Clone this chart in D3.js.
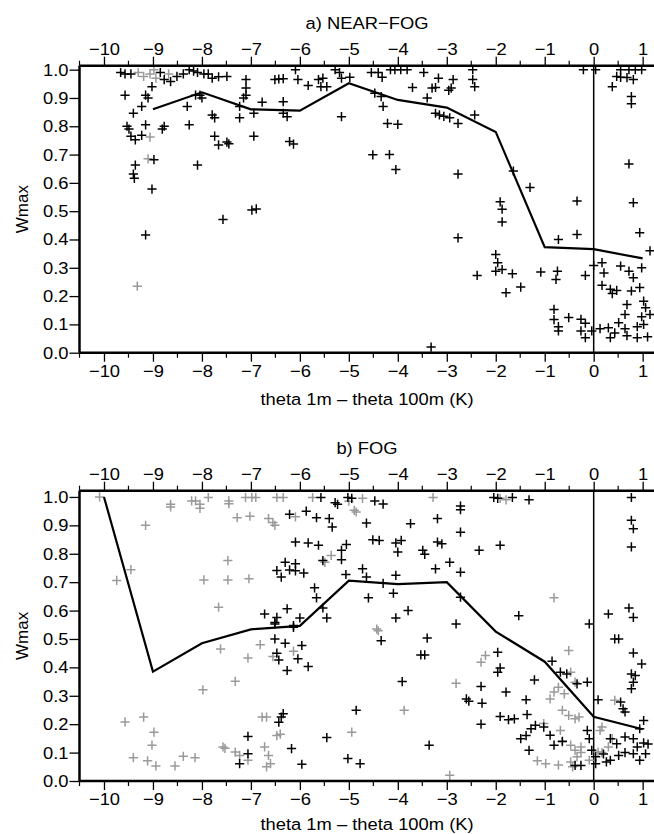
<!DOCTYPE html>
<html>
<head>
<meta charset="utf-8">
<script src="https://cdn.jsdelivr.net/npm/d3@7"></script>
<style>
  body { margin: 0; background: #fff; }
  svg { display: block; font-family: "Liberation Sans", Arial, sans-serif; }
</style>
</head>
<body>
<svg id="chart"></svg>
<script>
// tick values
const xTicks = [-10, -9, -8, -7, -6, -5, -4, -3, -2, -1, 0, 1];
const xMinor = [-10.5, -9.5, -8.5, -7.5, -6.5, -5.5, -4.5, -3.5, -2.5, -1.5, -0.5, 0.5];
const yTicks = [0, 0.1, 0.2, 0.3, 0.4, 0.5, 0.6, 0.7, 0.8, 0.9, 1.0];

// a) NEAR-FOG : mean line
const nearMeanX = [-9, -8, -7, -6, -5, -4, -3, -2, -1, 0, 1];
const nearMeanY = [0.86, 0.92, 0.86, 0.855, 0.952, 0.893, 0.866, 0.78, 0.373, 0.366, 0.333];

// a) NEAR-FOG : black crosses [theta diff, Wmax]
const nearBlack = [
  [-9.66,0.99],[-9.57,0.985],[-9.45,0.985],[-8.85,0.99],[-8.77,0.965],[-8.64,0.958],[-8.51,0.976],[-8.38,0.985],
  [-8.26,1.0],[-8.17,0.995],[-8.09,0.99],[-7.96,0.985],[-7.87,0.985],[-7.79,0.97],[-7.66,0.975],[-7.49,0.976],
  [-9.02,0.94],[-9.57,0.91],[-9.15,0.91],[-9.1,0.9],[-9.4,0.846],[-9.23,0.87],[-9.53,0.8],[-9.49,0.79],
  [-9.15,0.805],[-8.77,0.8],[-8.3,0.87],[-8.26,0.805],[-8.13,0.91],[-8.04,0.91],[-8.0,0.9],[-7.79,0.84],[-7.74,0.83],
  [-7.1,0.965],[-7.1,0.935],[-7.1,0.91],[-7.15,0.9],[-7.23,0.87],[-7.23,0.83],[-6.94,0.846],[-6.77,0.885],
  [-6.51,0.965],[-6.43,0.967],[-6.34,0.968],[-6.09,1.0],[-6.04,0.965],[-5.83,0.944],[-5.62,0.965],[-5.53,0.97],
  [-5.57,0.94],[-5.45,0.94],[-6.34,0.887],[-6.34,0.846],[-6.26,0.834],[-5.28,1.0],[-5.19,0.99],[-4.98,0.973],
  [-5.15,0.97],[-5.15,0.834],[-4.54,0.99],[-4.4,0.99],[-4.32,0.973],[-4.15,1.0],[-4.06,1.0],[-3.94,1.0],[-3.81,1.0],
  [-3.47,0.99],[-3.17,0.97],[-2.87,0.965],[-2.91,0.935],[-2.96,0.927],[-3.23,0.937],[-3.3,0.935],[-3.7,0.937],
  [-4.47,0.917],[-4.34,0.905],[-4.3,0.87],[-4.21,0.81],[-4.0,0.807],[-3.4,0.9],[-3.23,0.846],[-3.15,0.84],
  [-3.06,0.835],[-2.94,0.83],[-2.77,0.81],[-2.43,0.84],[-2.47,1.0],[-2.47,0.965],[-2.43,0.94],
  [-0.21,1.0],[0.04,1.0],[0.55,1.0],[0.72,1.0],[0.85,1.0],[0.98,1.0],[0.47,0.976],[0.55,0.973],[0.68,0.972],
  [0.81,0.965],[0.38,0.94],[0.77,0.905],[0.77,0.88],
  [-9.45,0.765],[-9.36,0.752],[-9.23,0.768],[-8.98,0.682],[-9.36,0.663],[-9.4,0.631],[-9.38,0.616],[-9.02,0.578],
  [-9.15,0.416],[-8.09,0.663],[-8.81,0.79],[-7.74,0.765],[-7.66,0.734],[-7.49,0.744],[-7.45,0.738],[-6.94,0.765],
  [-6.21,0.746],[-6.13,0.737],[-7.57,0.471],[-6.98,0.504],[-6.89,0.508],[-4.51,0.699],[-4.17,0.7],[-4.04,0.647],
  [-2.77,0.631],[-2.77,0.406],[-1.91,0.533],[-1.87,0.507],[-1.87,0.462],[-1.64,0.642],[-1.3,0.584],[-0.72,0.4],
  [-0.34,0.418],[-0.34,0.536],[0.72,0.667],[0.81,0.53],[0.94,0.424],
  [-3.32,0.02],[-2.0,0.347],[-1.96,0.318],[-2.0,0.288],[-1.87,0.294],[-1.66,0.279],[-1.79,0.212],[-1.49,0.232],
  [-2.38,0.273],[-1.08,0.285],[-0.74,0.288],[-0.77,0.259],[-0.17,0.273],[0.0,0.308],[0.17,0.318],[0.21,0.282],
  [0.55,0.306],[0.72,0.288],[0.81,0.265],[0.98,0.3],[1.15,0.36],[0.17,0.238],[0.34,0.224],[0.47,0.22],[0.38,0.209],
  [0.77,0.218],[0.94,0.23],[0.68,0.17],[1.02,0.182],[1.06,0.159],[1.15,0.135],[0.98,0.127],[0.64,0.135],[0.51,0.106],
  [-0.81,0.153],[-0.81,0.117],[-0.72,0.092],[-0.72,0.077],[-0.51,0.124],[-0.26,0.118],[-0.17,0.104],[-0.26,0.077],
  [-0.17,0.053],[-0.04,0.077],[0.13,0.085],[0.3,0.088],[0.34,0.053],[0.43,0.07],[0.64,0.085],[0.68,0.06],
  [0.89,0.092],[0.89,0.053],[1.1,0.056],[1.02,0.1]
];

// a) NEAR-FOG : grey crosses
const nearGrey = [
  [-9.3,0.99],[-9.19,0.976],[-9.06,0.985],[-8.98,1.0],[-8.94,0.97],[-8.68,0.985],[-9.06,0.762],[-9.1,0.685],[-9.32,0.235]
];

// b) FOG : mean line
const fogMeanX = [-10, -9, -8, -7, -6, -5, -4, -3, -2, -1, 0, 1];
const fogMeanY = [1.0, 0.385, 0.485, 0.534, 0.546, 0.705, 0.693, 0.7, 0.526, 0.42, 0.226, 0.182];

// b) FOG : black crosses
const fogBlack = [
  [-5.57,0.998],[-5.28,0.98],[-5.02,0.998],[-4.94,0.995],[-5.23,0.974],[-4.47,0.986],[-4.3,0.975],[-2.72,0.968],
  [-2.04,0.998],[-1.96,0.995],[-1.66,0.998],[-1.32,0.99],[0.77,0.998],
  [-6.21,0.939],[-5.87,0.95],[-5.66,0.927],[-5.4,0.924],[-5.34,0.894],[-4.64,0.908],[-3.74,0.906],[-3.19,0.924],
  [-2.72,0.955],[-2.72,0.876],[-6.09,0.841],[-5.83,0.838],[-5.62,0.83],[-5.15,0.812],[-5.05,0.833],[-4.51,0.849],
  [-4.38,0.847],[-4.04,0.838],[-3.93,0.847],[-4.0,0.806],[-3.49,0.812],[-3.45,0.798],[-3.19,0.841],[-3.1,0.835],
  [-2.34,0.812],[-1.91,0.83],[-5.15,0.779],[-5.53,0.776],[-6.3,0.77],[-6.09,0.765],[-6.47,0.741],[-6.21,0.743],
  [-6.09,0.74],[-5.92,0.732],[-6.38,0.718],[-5.06,0.727],[-4.72,0.747],[-4.64,0.718],[-4.04,0.724],[-3.23,0.747],
  [-2.94,0.77],[-2.72,0.735],[-5.7,0.68],[-5.66,0.645],[-5.53,0.609],[-5.45,0.574],[-4.6,0.645],[-4.3,0.696],
  [-4.09,0.661],[-4.04,0.574],[-3.79,0.6],[-2.72,0.647],[-2.81,0.553],[-1.53,0.582],[-0.09,0.553],[0.3,0.588],
  [0.72,0.609],[0.81,0.576],[0.77,0.918],[0.81,0.888],[0.77,0.824],[-6.72,0.588],[-6.47,0.576],[-6.26,0.606],
  [-6.0,0.574],[-6.51,0.553],[-6.13,0.547],
  [-6.51,0.558],[-6.51,0.5],[-6.3,0.485],[-6.47,0.45],[-6.43,0.426],[-6.26,0.389],[-6.04,0.43],[-5.96,0.477],
  [-5.83,0.403],[-6.13,0.541],[-4.34,0.494],[-3.4,0.503],[-3.53,0.444],[-3.45,0.444],[-3.91,0.35],[-3.36,0.126],
  [-2.6,0.289],[-2.55,0.281],[-2.3,0.333],[-2.28,0.274],[-1.96,0.453],[-1.91,0.398],[-1.96,0.383],[-1.79,0.313],
  [-2.3,0.2],[-1.91,0.227],[-1.74,0.216],[-1.62,0.219],[-1.38,0.286],[-1.21,0.356],[-1.36,0.234],[-1.28,0.184],
  [-1.19,0.196],[-1.32,0.108],[-1.49,0.149],[-1.38,0.16],[-1.02,0.19],[-0.89,0.161],[-0.81,0.126],[-0.85,0.422],
  [-0.68,0.383],[-0.55,0.377],[-0.34,0.342],[-0.13,0.348],[0.09,0.286],[-0.13,0.178],[-0.09,0.149],[-0.64,0.14],
  [-0.04,0.108],[0.04,0.085],[0.2,0.095],[0.34,0.073],[0.34,0.149],[0.55,0.278],[0.6,0.254],[0.64,0.243],
  [0.77,0.325],[0.81,0.348],[0.85,0.371],[0.98,0.412],[1.02,0.213],[0.94,0.184],[0.43,0.5],[0.51,0.5],[0.81,0.451],
  [0.77,0.377],[0.47,0.131],[0.64,0.155],[0.81,0.149],[0.89,0.12],[1.02,0.134],[1.06,0.096],[0.81,0.096],
  [0.64,0.1],[0.51,0.09],[0.26,0.067],[0.04,0.061],[-0.26,0.055],[-0.38,0.055],[0.94,0.073],[1.11,0.13],
  [-4.77,0.061],[-5.02,0.079],[-4.85,0.249],[-5.45,0.153],[-7.06,0.157],[-7.06,0.096],[-7.23,0.061],
  [-6.34,0.237],[-6.43,0.207],[-6.17,0.114],[-5.96,0.059],[-6.38,0.225]
];

// b) FOG : grey crosses
const fogGrey = [
  [-10.09,1.0],[-8.64,0.974],[-8.21,0.986],[-8.04,0.974],[-7.87,0.998],[-8.13,0.986],[-7.45,0.986],[-7.11,0.998],
  [-6.98,0.998],[-6.9,0.998],[-6.47,0.998],[-6.34,0.998],[-5.74,0.998],[-4.72,0.995],[-3.28,0.998],[-1.91,0.995],[-1.79,0.99],
  [-9.15,0.9],[-8.64,0.965],[-8.04,0.96],[-7.45,0.976],[-7.28,0.927],[-7.02,0.932],[-6.64,0.924],[-6.51,0.9],
  [-6.55,0.91],[-6.09,0.93],[-9.74,0.706],[-9.45,0.744],[-7.96,0.708],[-7.47,0.708],[-7.04,0.712],[-7.47,0.776],
  [-7.66,0.612],[-5.49,0.77],[-5.36,0.794],[-4.89,0.953],[-4.85,0.947],[-5.0,0.985],[-0.81,0.645],[-4.43,0.535],
  [-9.57,0.208],[-9.19,0.225],[-8.98,0.172],[-9.02,0.126],[-9.4,0.082],[-9.11,0.071],[-8.94,0.053],[-8.55,0.053],
  [-8.38,0.087],[-8.14,0.082],[-7.98,0.321],[-7.62,0.465],[-7.32,0.351],[-7.06,0.433],[-6.81,0.48],[-6.55,0.438],
  [-6.13,0.457],[-6.77,0.225],[-6.68,0.225],[-6.47,0.16],[-6.4,0.165],[-7.57,0.12],[-7.53,0.115],[-7.32,0.102],
  [-7.23,0.09],[-7.06,0.073],[-6.72,0.12],[-6.64,0.09],[-6.68,0.05],[-6.6,0.061],[-4.94,0.172],[-4.4,0.529],
  [-3.87,0.249],[-2.94,0.02],[-2.81,0.344],[-2.3,0.418],[-2.21,0.442],[-1.02,0.202],[-1.15,0.071],[-0.89,0.289],
  [-0.81,0.313],[-0.72,0.33],[-0.6,0.307],[-0.51,0.459],[-0.47,0.383],[-0.38,0.348],[-0.64,0.249],[-0.51,0.231],
  [-0.38,0.219],[-0.3,0.225],[-0.68,0.178],[-0.64,0.137],[-0.47,0.126],[-0.38,0.108],[-0.34,0.085],[-0.47,0.067],
  [-0.43,0.05],[-0.26,0.12],[-0.26,0.1],[-0.98,0.061],[-0.72,0.056],[0.13,0.178],[0.17,0.19],[0.17,0.1],
  [0.43,0.284],[0.38,0.149],[0.3,0.12],[0.09,0.102],[-0.09,0.073]
];

const W = 654, H = 834;
const FS = 17, STRETCH = 1.08;   // reference text is a little wide
const svg = d3.select('#chart').attr('width', W).attr('height', H);

const x = d3.scaleLinear().domain([-10.5, 1.25]).range([79.5, 79.5 + 11.75 * 48.97]);
const fmtX = d3.format('d');

// widen a text element around its anchor point
function widen(sel) {
  sel.each(function () {
    const t = d3.select(this);
    const tx = +t.attr('x') || 0;
    t.attr('x', tx / STRETCH).attr('transform', (t.attr('transform') || '') + ` scale(${STRETCH},1)`);
  });
}

function panel(cfg) {
  const y = d3.scaleLinear().domain([0, cfg.yMax]).range([cfg.bottom, cfg.top]);
  const g = svg.append('g');
  const clipId = 'clip' + cfg.id;
  svg.append('clipPath').attr('id', clipId)
    .append('rect').attr('x', x.range()[0]).attr('y', cfg.top - 8)
    .attr('width', W - x.range()[0]).attr('height', cfg.bottom - cfg.top + 16);

  // zero line
  g.append('line').attr('x1', x(0)).attr('x2', x(0))
    .attr('y1', cfg.top).attr('y2', cfg.bottom)
    .attr('stroke', '#000').attr('stroke-width', 1.5);

  // crosses
  const plot = g.append('g').attr('clip-path', `url(#${clipId})`);
  const cross = (sel, data, col) => {
    sel.selectAll(null).data(data).enter().append('path')
      .attr('d', d => {
        const cx = x(d[0]), cy = y(d[1]), r = 4.6;
        return `M${cx - r},${cy}H${cx + r}M${cx},${cy - r}V${cy + r}`;
      })
      .attr('stroke', col).attr('stroke-width', 1.5).attr('fill', 'none');
  };
  cross(plot, cfg.grey, '#9a9a9a');
  cross(plot, cfg.black, '#000');

  // mean line
  const line = d3.line().x(d => x(d[0])).y(d => y(d[1]));
  plot.append('path').datum(cfg.meanX.map((v, i) => [v, cfg.meanY[i]]))
    .attr('d', line).attr('fill', 'none').attr('stroke', '#000').attr('stroke-width', 2.2);

  // bottom axis
  const bottom = g.append('g').attr('transform', `translate(0,${cfg.bottom})`)
    .call(d3.axisBottom(x).tickValues(xTicks).tickFormat(fmtX).tickSize(9).tickPadding(3));
  bottom.append('g').selectAll('line').data(xMinor).enter().append('line')
    .attr('x1', d => x(d)).attr('x2', d => x(d)).attr('y1', 0).attr('y2', 5).attr('stroke', '#000').attr('stroke-width', 1.2);
  // top axis
  const top = g.append('g').attr('transform', `translate(0,${cfg.top})`)
    .call(d3.axisTop(x).tickValues(xTicks).tickFormat(fmtX).tickSize(9).tickPadding(2));
  top.append('g').selectAll('line').data(xMinor).enter().append('line')
    .attr('x1', d => x(d)).attr('x2', d => x(d)).attr('y1', 0).attr('y2', -5).attr('stroke', '#000').attr('stroke-width', 1.2);
  // left axis
  const left = g.append('g').attr('transform', `translate(${x.range()[0]},0)`)
    .call(d3.axisLeft(y).tickValues(yTicks).tickFormat(d3.format('.1f')).tickSize(10).tickPadding(1));

  [bottom, top, left].forEach(a => {
    a.select('.domain').remove();
    a.selectAll('.tick line').attr('stroke', '#000').attr('stroke-width', 1.3);
    a.selectAll('text').attr('font-size', FS).attr('fill', '#000')
      .attr('font-family', '"Liberation Sans", Arial, sans-serif');
    widen(a.selectAll('text'));
  });
  // frame lines
  g.append('line').attr('x1', x.range()[0]).attr('x2', W).attr('y1', cfg.top).attr('y2', cfg.top)
    .attr('stroke', '#000').attr('stroke-width', 2.5);
  g.append('line').attr('x1', x.range()[0]).attr('x2', W).attr('y1', cfg.bottom).attr('y2', cfg.bottom)
    .attr('stroke', '#000').attr('stroke-width', 2.5);
  g.append('line').attr('x1', x.range()[0]).attr('x2', x.range()[0]).attr('y1', cfg.top).attr('y2', cfg.bottom)
    .attr('stroke', '#000').attr('stroke-width', 2.5);

  // titles
  const titles = g.append('g');
  titles.append('text').attr('x', 367).attr('y', cfg.top - 37)
    .attr('text-anchor', 'middle').attr('font-size', FS).text(cfg.title);
  titles.append('text').attr('x', 367).attr('y', cfg.bottom + cfg.xTitleDy)
    .attr('text-anchor', 'middle').attr('font-size', FS).text('theta 1m \u2013 theta 100m (K)');
  widen(titles.selectAll('text'));
  g.append('text').attr('transform', `translate(28,${(cfg.top + cfg.bottom) / 2}) rotate(-90)`)
    .attr('text-anchor', 'middle').attr('font-size', FS).text('Wmax');
}

panel({ id: 'a', title: 'a) NEAR\u2212FOG', top: 65.7, bottom: 352.7, yMax: 1.014, xTitleDy: 52,
  meanX: nearMeanX, meanY: nearMeanY, black: nearBlack, grey: nearGrey });
panel({ id: 'b', title: 'b) FOG', top: 490.7, bottom: 781, yMax: 1.022, xTitleDy: 49,
  meanX: fogMeanX, meanY: fogMeanY, black: fogBlack, grey: fogGrey });
</script>
</body>
</html>
